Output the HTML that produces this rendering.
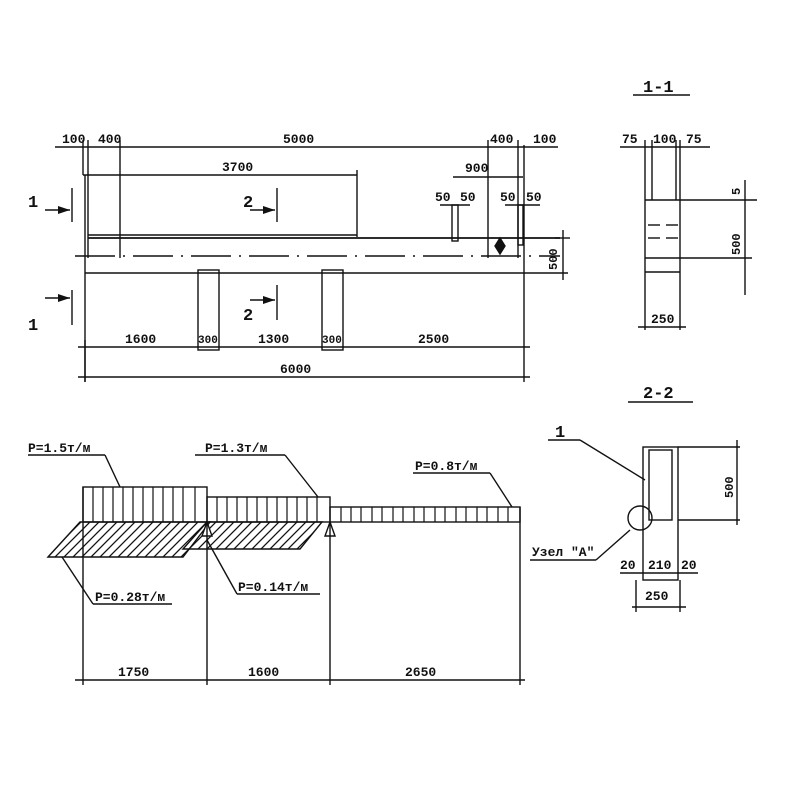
<!DOCTYPE html>
<html><head><meta charset="utf-8"><style>
html,body{margin:0;padding:0;background:#fff}
svg{display:block}
text{font-family:"Liberation Mono",monospace;font-weight:bold;fill:#111}
</style></head><body>
<svg width="800" height="800" viewBox="0 0 800 800" xmlns="http://www.w3.org/2000/svg">
<defs>
<pattern id="h" patternUnits="userSpaceOnUse" width="9" height="9">
<path d="M-1 10 L10 -1 M-2 2 L2 -2 M7 11 L11 7" stroke="#111" stroke-width="1.3"/></pattern>
</defs>
<g stroke="#111" stroke-width="1.4" fill="none">
<line x1="55" y1="147" x2="558" y2="147"/>
<line x1="83" y1="140" x2="83" y2="175"/>
<line x1="88" y1="140" x2="88" y2="258"/>
<line x1="120" y1="140" x2="120" y2="258"/>
<line x1="488" y1="140" x2="488" y2="258"/>
<line x1="518" y1="140" x2="518" y2="258"/>
<line x1="83" y1="175" x2="357" y2="175"/>
<line x1="357" y1="170" x2="357" y2="237"/>
<line x1="453" y1="177" x2="523" y2="177"/>
<line x1="88" y1="235" x2="357" y2="235"/>
<line x1="88" y1="238" x2="560" y2="238" stroke-width="1.8"/>
<line x1="75" y1="256" x2="560" y2="256" stroke-dasharray="40,8,2,8"/>
<line x1="85" y1="273" x2="568" y2="273"/>
<line x1="85" y1="175" x2="85" y2="382"/>
<line x1="524" y1="145" x2="524" y2="382"/>
<rect x="198" y="270" width="21" height="80"/>
<rect x="322" y="270" width="21" height="80"/>
<rect x="452" y="205" width="6" height="36"/>
<rect x="518" y="205" width="5" height="40"/>
<line x1="440" y1="205" x2="470" y2="205"/><line x1="505" y1="205" x2="540" y2="205"/>
<path d="M500 238 L505 246 L500 254 L495 246 Z" fill="#111"/>
<line x1="563" y1="230" x2="563" y2="280"/>
<line x1="555" y1="238" x2="570" y2="238"/>
<line x1="72" y1="188" x2="72" y2="222"/><line x1="45" y1="210" x2="70" y2="210"/>
<line x1="72" y1="290" x2="72" y2="325"/><line x1="45" y1="298" x2="70" y2="298"/>
<line x1="277" y1="188" x2="277" y2="222"/><line x1="250" y1="210" x2="275" y2="210"/>
<line x1="277" y1="285" x2="277" y2="320"/><line x1="250" y1="300" x2="275" y2="300"/>
<line x1="78" y1="347" x2="530" y2="347"/>
<line x1="78" y1="377" x2="530" y2="377"/>
<line x1="85" y1="340" x2="85" y2="382"/>
<line x1="633" y1="95" x2="690" y2="95"/>
<line x1="620" y1="147" x2="710" y2="147"/>
<line x1="645" y1="140" x2="645" y2="330"/>
<line x1="680" y1="140" x2="680" y2="330"/>
<line x1="652" y1="140" x2="652" y2="200"/>
<line x1="676" y1="140" x2="676" y2="200"/>
<line x1="645" y1="200" x2="757" y2="200"/>
<line x1="645" y1="258" x2="752" y2="258"/>
<line x1="645" y1="272" x2="680" y2="272"/>
<line x1="745" y1="180" x2="745" y2="295"/>
<line x1="648" y1="225" x2="660" y2="225"/><line x1="666" y1="225" x2="678" y2="225"/>
<line x1="648" y1="238" x2="660" y2="238"/><line x1="666" y1="238" x2="678" y2="238"/>
<line x1="638" y1="327" x2="686" y2="327"/>
<line x1="628" y1="402" x2="693" y2="402"/>
<rect x="643" y="447" width="35" height="133"/>
<rect x="649" y="450" width="23" height="70"/>
<line x1="678" y1="447" x2="740" y2="447"/>
<line x1="678" y1="520" x2="740" y2="520"/>
<line x1="737" y1="440" x2="737" y2="525"/>
<circle cx="640" cy="518" r="12"/>
<line x1="548" y1="440" x2="580" y2="440"/><line x1="580" y1="440" x2="645" y2="480"/>
<line x1="530" y1="560" x2="596" y2="560"/><line x1="596" y1="560" x2="630" y2="530"/>
<line x1="620" y1="573" x2="698" y2="573"/>
<line x1="636" y1="580" x2="636" y2="612"/><line x1="680" y1="580" x2="680" y2="612"/>
<line x1="632" y1="607" x2="686" y2="607"/>
<line x1="28" y1="455" x2="105" y2="455"/><line x1="105" y1="455" x2="120" y2="487"/>
<line x1="195" y1="455" x2="285" y2="455"/><line x1="285" y1="455" x2="318" y2="497"/>
<line x1="413" y1="473" x2="490" y2="473"/><line x1="490" y1="473" x2="512" y2="507"/>
<rect x="83" y="487" width="124" height="35"/>
<rect x="207" y="497" width="123" height="25"/>
<rect x="330" y="507" width="190" height="15"/>
<polygon points="48,557 80,522 210,522 183,557" fill="url(#h)"/>
<polygon points="183,549 207,522 322,522 300,549" fill="url(#h)"/>
<path d="M207 522 L202 536 L212 536 Z" fill="#fff"/>
<path d="M330 522 L325 536 L335 536 Z" fill="#fff"/>
<line x1="62" y1="557" x2="93" y2="604"/><line x1="93" y1="604" x2="172" y2="604"/>
<line x1="207" y1="540" x2="237" y2="594"/><line x1="237" y1="594" x2="320" y2="594"/>
<line x1="83" y1="487" x2="83" y2="685"/>
<line x1="207" y1="522" x2="207" y2="685"/>
<line x1="330" y1="522" x2="330" y2="685"/>
<line x1="520" y1="507" x2="520" y2="685"/>
<line x1="75" y1="680" x2="525" y2="680"/>
</g>
<g stroke="#111" stroke-width="1.2">
<path d="M93 487V522M103 487V522M113 487V522M123 487V522M133 487V522M143 487V522M153 487V522M163 487V522M173 487V522M183 487V522M195 487V522"/>
<path d="M217 497V522M227 497V522M237 497V522M247 497V522M257 497V522M267 497V522M277 497V522M287 497V522M297 497V522M307 497V522M317 497V522"/>
<path d="M341 507V522M351 507V522M361 507V522M372 507V522M382 507V522M393 507V522M403 507V522M414 507V522M424 507V522M435 507V522M445 507V522M456 507V522M466 507V522M477 507V522M487 507V522M498 507V522M508 507V522"/>
</g>
<g fill="#111"><path d="M58 206 L70 210 L58 214 Z"/><path d="M58 294 L70 298 L58 302 Z"/><path d="M263 206 L275 210 L263 214 Z"/><path d="M263 296 L275 300 L263 304 Z"/></g>
<g font-size="13">
<text x="62" y="143">100</text><text x="98" y="143">400</text><text x="283" y="143">5000</text>
<text x="490" y="143">400</text><text x="533" y="143">100</text>
<text x="222" y="171">3700</text><text x="465" y="172">900</text>
<text x="435" y="201">50</text><text x="460" y="201">50</text>
<text x="500" y="201">50</text><text x="526" y="201">50</text>
<text x="125" y="343">1600</text><text x="198" y="343" font-size="11">300</text>
<text x="258" y="343">1300</text><text x="322" y="343" font-size="11">300</text>
<text x="418" y="343">2500</text><text x="280" y="373">6000</text>
<text x="622" y="143">75</text><text x="653" y="143">100</text><text x="686" y="143">75</text>
<text x="651" y="323">250</text>
<text x="620" y="569">20</text><text x="648" y="569">210</text><text x="681" y="569">20</text>
<text x="645" y="600">250</text>
<text x="28" y="452">P=1.5т/м</text><text x="205" y="452">P=1.3т/м</text>
<text x="415" y="470">P=0.8т/м</text><text x="95" y="601">P=0.28т/м</text>
<text x="238" y="591">P=0.14т/м</text>
<text x="118" y="676">1750</text><text x="248" y="676">1600</text><text x="405" y="676">2650</text>
<text x="532" y="556">Узел "А"</text>
</g>
<g font-size="17"><text x="28" y="207">1</text><text x="28" y="330">1</text>
<text x="243" y="207">2</text><text x="243" y="320">2</text>
<text x="643" y="92">1-1</text><text x="643" y="398">2-2</text>
<text x="555" y="437">1</text></g>
<g font-size="12">
<text transform="translate(557,270) rotate(-90)">500</text>
<text transform="translate(740,255) rotate(-90)">500</text>
<text transform="translate(740,195) rotate(-90)">5</text>
<text transform="translate(733,498) rotate(-90)">500</text>
</g>
</svg>
</body></html>
